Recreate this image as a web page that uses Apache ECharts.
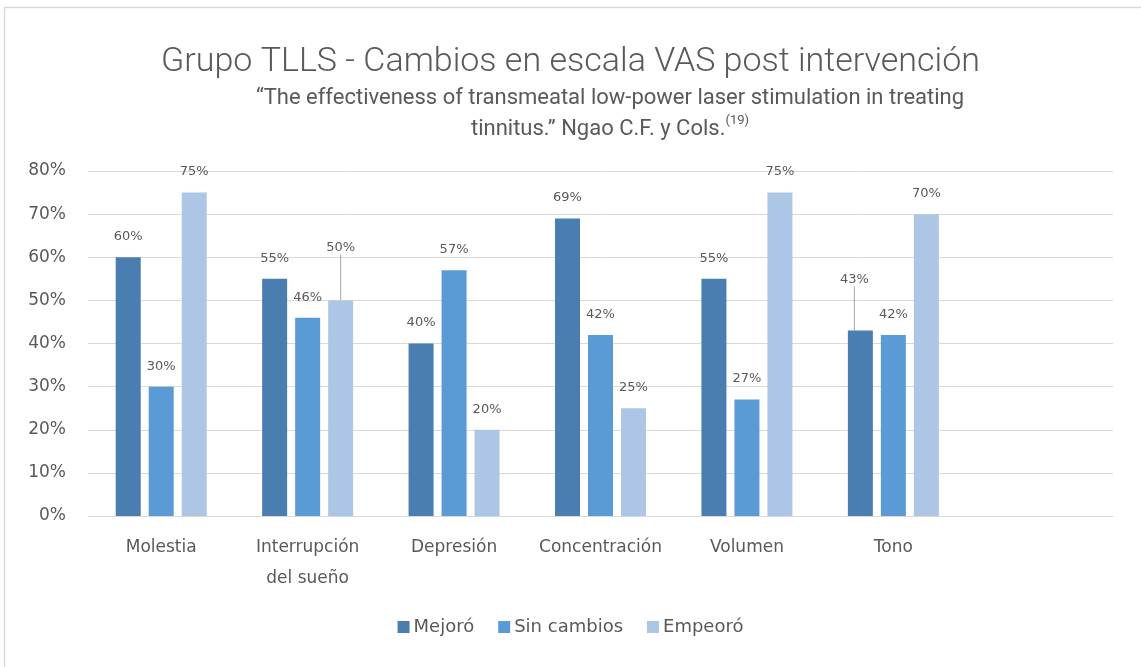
<!DOCTYPE html>
<html>
<head>
<meta charset="utf-8">
<script src="https://cdn.jsdelivr.net/npm/echarts@6/dist/echarts.min.js"></script>
<style>
  html, body { margin: 0; padding: 0; background: #fff; }
  #chart { width: 1141px; height: 667px; }
</style>
</head>
<body>
<div id="chart"></div>
<script>
const categories = ['Molestia', 'Interrupción\ndel sueño', 'Depresión', 'Concentración', 'Volumen', 'Tono', '']
const mejoro = [60, 55, 40, 69, 55, 43]
const sinCambios = [30, 46, 57, 42, 27, 42]
const empeoro = [75, 50, 20, 25, 75, 70]
const yTicks = [0, 10, 20, 30, 40, 50, 60, 70, 80]

const textColor = '#595959'
const font = '"DejaVu Sans"'
const titleFont = 'Roboto'

// labels that were dragged away from their bar in the original (with leader line)
const movedLabels = {
  '2-1': { dx: 0, dy: -32 },
  '0-5': { dx: -6, dy: -30 }
}

const chart = echarts.init(document.getElementById('chart'))

const makeSeries = (name, values, color, idx) => ({
  name,
  type: 'bar',
  barWidth: 25,
  barGap: '32%',
  itemStyle: { color },
  label: {
    show: true,
    position: 'top',
    distance: 14,
    formatter: '{c}%',
    color: textColor,
    fontFamily: font,
    fontSize: 13
  },
  labelLine: { show: false },
  labelLayout: (params) => movedLabels[idx + '-' + params.dataIndex] || {},
  data: values.map((v, i) => movedLabels[idx + '-' + i]
    ? { value: v, labelLine: { show: true, lineStyle: { color: '#a6a6a6', width: 1 } } }
    : v)
})

const option = {
  animation: false,
  textStyle: { fontFamily: font },
  title: {
    text: 'Grupo TLLS - Cambios en escala VAS post intervención',
    left: 'center',
    top: 40,
    textStyle: { color: textColor, fontFamily: titleFont, fontWeight: 300, fontSize: 34 }
  },
  graphic: [
    {
      type: 'rect',
      shape: { x: 4.5, y: 7.5, width: 1200, height: 700 },
      style: { fill: 'none', stroke: '#D9D9D9', lineWidth: 1.5 },
      silent: true
    },
    {
      type: 'text',
      x: 610,
      y: 83,
      style: {
        text: '“The effectiveness of transmeatal low-power laser stimulation in treating\ntinnitus.” Ngao C.F. y Cols.{sup|(19)}',
        align: 'center',
        fill: textColor,
        fontFamily: titleFont,
        fontSize: 22,
        lineHeight: 31,
        rich: { sup: { fontSize: 13, verticalAlign: 'top', lineHeight: 22, fill: textColor, fontFamily: titleFont } }
      },
      silent: true
    }
  ],
  legend: {
    bottom: 26,
    left: 'center',
    itemWidth: 12,
    itemHeight: 12,
    itemGap: 24,
    icon: 'rect',
    textStyle: { color: textColor, fontFamily: font, fontSize: 18, padding: [0, 0, 0, -1] }
  },
  grid: { left: 88, right: 28, top: 171, bottom: 151 },
  xAxis: {
    type: 'category',
    data: categories,
    axisLine: { lineStyle: { color: '#D9D9D9', width: 1 } },
    axisTick: { show: false },
    axisLabel: {
      color: textColor, fontFamily: font, fontSize: 17, lineHeight: 31, margin: 16, interval: 0
    }
  },
  yAxis: {
    type: 'value',
    min: yTicks[0],
    max: yTicks[yTicks.length - 1],
    interval: 10,
    axisLine: { show: false },
    axisTick: { show: false },
    splitLine: { lineStyle: { color: '#D9D9D9', width: 1 } },
    axisLabel: { formatter: '{value}%', color: textColor, fontFamily: font, fontSize: 17, margin: 22 }
  },
  series: [
    makeSeries('Mejoró', mejoro, '#4A7EB0', 0),
    makeSeries('Sin cambios', sinCambios, '#5B9BD5', 1),
    makeSeries('Empeoró', empeoro, '#ADC6E5', 2)
  ]
}

chart.setOption(option)
</script>
</body>
</html>
